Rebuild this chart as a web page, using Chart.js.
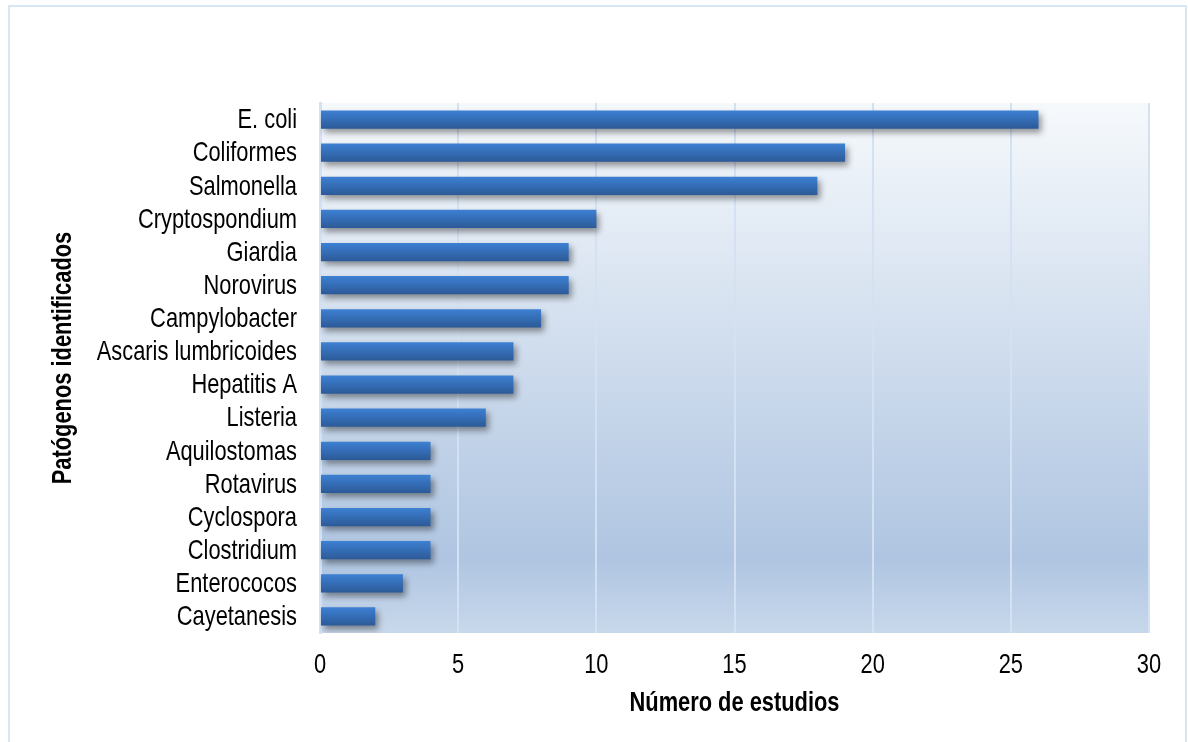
<!DOCTYPE html>
<html>
<head>
<meta charset="utf-8">
<script src="https://cdn.jsdelivr.net/npm/chart.js@4/dist/chart.umd.min.js"></script>
<style>
  html, body { margin: 0; padding: 0; background: #fff; }
  #wrap { width: 1188px; height: 742px; position: relative; }
</style>
</head>
<body>
<div id="wrap"><canvas id="chart" width="1188" height="742"></canvas></div>
<script>
// Datos del gráfico
const patogenos = [
  'E. coli', 'Coliformes', 'Salmonella', 'Cryptospondium', 'Giardia', 'Norovirus',
  'Campylobacter', 'Ascaris lumbricoides', 'Hepatitis A', 'Listeria', 'Aquilostomas',
  'Rotavirus', 'Cyclospora', 'Clostridium', 'Enterococos', 'Cayetanesis'
];
const estudios = [26, 19, 18, 10, 9, 9, 8, 7, 7, 6, 4, 4, 4, 4, 3, 2];
const xTicks = [0, 5, 10, 15, 20, 25, 30];
const tituloX = 'Número de estudios';
const tituloY = 'Patógenos identificados';

const FONT = "'Liberation Sans', Arial, sans-serif";
const ESTRECHO = 0.78; // la fuente del original es condensada

function texto(ctx, s, x, y, align, bold, girar) {
  ctx.save();
  ctx.translate(x, y);
  if (girar) ctx.rotate(-Math.PI / 2);
  ctx.scale(ESTRECHO, 1);
  ctx.font = (bold ? 'bold ' : '') + '28px ' + FONT;
  ctx.fillStyle = '#000';
  ctx.textAlign = align;
  ctx.textBaseline = 'middle';
  ctx.fillText(s, 0, 0);
  ctx.restore();
}

// Marco exterior, fondo degradado, sombras y textos
const fondoPlugin = {
  id: 'fondo',
  beforeDraw(chart) {
    const { ctx, chartArea: a } = chart;
    ctx.save();
    ctx.fillStyle = '#ffffff';
    ctx.fillRect(0, 0, chart.width, chart.height);
    ctx.strokeStyle = '#d9e5f4';
    ctx.lineWidth = 2;
    ctx.strokeRect(9, 6, 1177, 745);
    const g = ctx.createLinearGradient(0, a.top, 0, a.bottom);
    g.addColorStop(0, '#f6f9fc');
    g.addColorStop(0.86, '#afc5e1');
    g.addColorStop(1, '#c8d8eb');
    ctx.fillStyle = g;
    ctx.fillRect(a.left, a.top, a.right - a.left, a.bottom - a.top);
    ctx.restore();
  },
  beforeDatasetsDraw(chart) {
    const ctx = chart.ctx;
    ctx.save();
    ctx.shadowColor = 'rgba(0, 0, 0, 0.4)';
    ctx.shadowBlur = 6;
    ctx.shadowOffsetX = 3;
    ctx.shadowOffsetY = 4;
  },
  afterDatasetsDraw(chart) {
    chart.ctx.restore();
  },
  afterDraw(chart) {
    const { ctx, chartArea: a, scales } = chart;
    patogenos.forEach((p, i) => {
      texto(ctx, p, a.left - 23, scales.y.getPixelForValue(i) + 1, 'right', false, false);
    });
    xTicks.forEach(v => {
      texto(ctx, String(v), scales.x.getPixelForValue(v), a.bottom + 32, 'center', false, false);
    });
    texto(ctx, tituloX, (a.left + a.right) / 2, 703, 'center', true, false);
    texto(ctx, tituloY, 63, 358, 'center', true, true);
  }
};

function barGradient(context) {
  const chart = context.chart;
  if (!chart.chartArea) return '#3672c0';
  const y = chart.scales.y.getPixelForValue(context.dataIndex);
  const g = chart.ctx.createLinearGradient(0, y - 9, 0, y + 9);
  g.addColorStop(0, '#3d80d3');
  g.addColorStop(1, '#2c5a98');
  return g;
}

new Chart(document.getElementById('chart'), {
  type: 'bar',
  data: {
    labels: patogenos,
    datasets: [{
      data: estudios,
      backgroundColor: barGradient,
      borderWidth: 0,
      categoryPercentage: 1,
      barPercentage: 0.55
    }]
  },
  plugins: [fondoPlugin],
  options: {
    indexAxis: 'y',
    responsive: false,
    animation: false,
    devicePixelRatio: 1,
    layout: { padding: { left: 0, top: 103, right: 39, bottom: 0 } },
    plugins: {
      legend: { display: false },
      tooltip: { enabled: false }
    },
    scales: {
      x: {
        min: 0,
        max: 30,
        afterBuildTicks: scale => { scale.ticks = xTicks.map(v => ({ value: v })); },
        afterFit: scale => { scale.height = 109; },
        grid: { color: '#d3e1f2', lineWidth: 2, drawTicks: false },
        border: { display: false },
        ticks: { display: false }
      },
      y: {
        afterFit: scale => { scale.width = 320; },
        grid: { display: false, drawTicks: false },
        border: { display: true, color: '#d3e1f2', width: 3 },
        ticks: { display: false }
      }
    }
  }
});
</script>
</body>
</html>
